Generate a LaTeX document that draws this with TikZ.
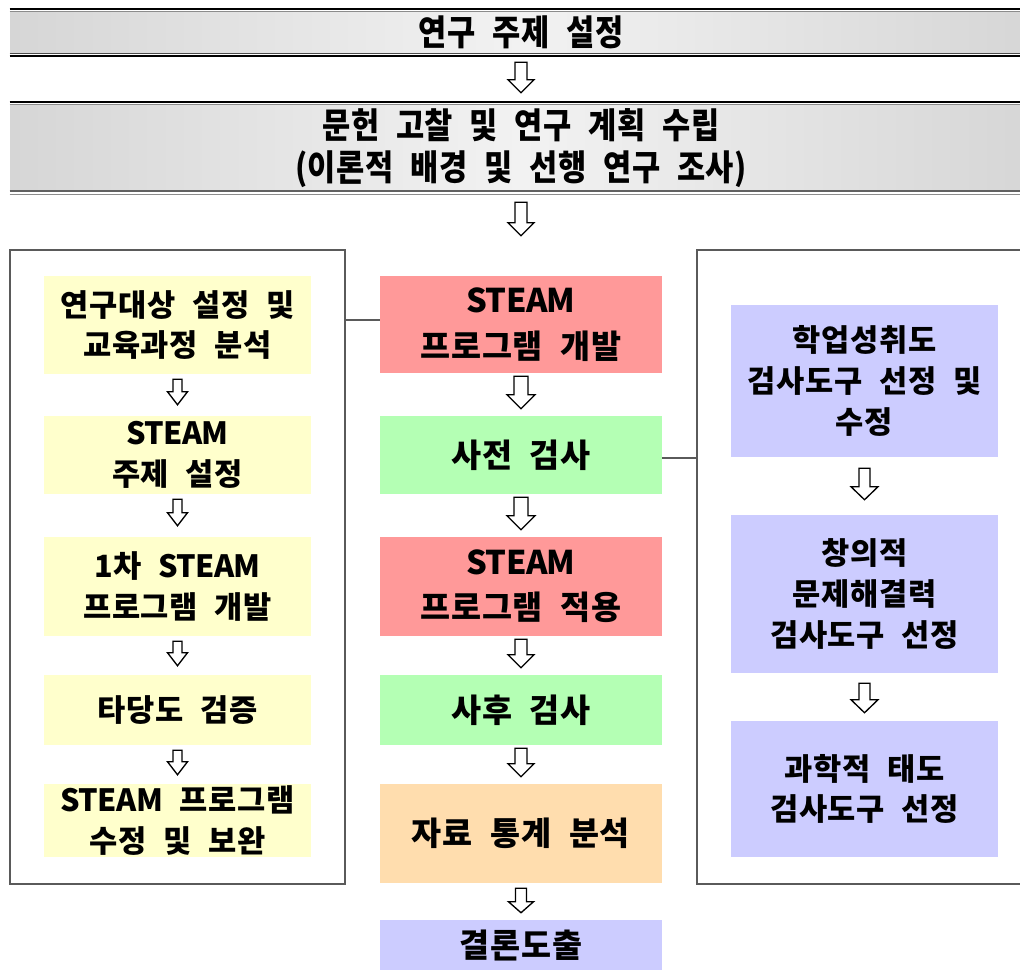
\documentclass[tikz,border=0pt]{standalone}
\usepackage{fontspec}
\usepackage{graphicx}
\setmainfont{Noto Sans CJK KR}[WordSpace=2.2, LetterSpace=2]
\newfontfamily\latfont{Noto Sans CJK KR}[LetterSpace=-2]
\usetikzlibrary{calc}
\definecolor{cyel}{HTML}{FFFFCC}
\definecolor{cred}{HTML}{FF9999}
\definecolor{cgrn}{HTML}{B4FFB4}
\definecolor{corg}{HTML}{FFDDAE}
\definecolor{clav}{HTML}{CCCCFF}
\definecolor{cedge}{HTML}{D6D6D6}
\definecolor{cmid}{HTML}{F2F2F2}
\definecolor{cframe}{HTML}{5A5A5A}
\newcommand\lat[1]{{\latfont\bfseries #1}}
\newcommand\harrow[7]{%
 \draw[hollow] let \p1=(#1), \p2=(#2) in
  ({\x1-#5*0.75pt},{\y1-#3*0.75pt}) -- ({\x1+#5*0.75pt},{\y1-#3*0.75pt})
  -- ({\x1+#5*0.75pt},{\y2+#4*0.75pt+#7*0.75pt}) -- ({\x1+#6*0.75pt},{\y2+#4*0.75pt+#7*0.75pt})
  -- ({\x1},{\y2+#4*0.75pt}) -- ({\x1-#6*0.75pt},{\y2+#4*0.75pt+#7*0.75pt})
  -- ({\x1-#5*0.75pt},{\y2+#4*0.75pt+#7*0.75pt}) -- cycle;}
\begin{document}
\begin{tikzpicture}[x=0.75pt,y=-0.75pt,
  sz/.style 2 args={minimum width=#1*0.75pt, minimum height=#2*0.75pt},
  box/.style={inner sep=0pt, align=center, text=black},
  sidetext/.style={font=\bfseries\fontsize{23}{30.5}\selectfont},
  midtext/.style={font=\bfseries\fontsize{24.5}{34}\selectfont},
  lbox/.style={box, sidetext, fill=cyel},
  rbox/.style={box, sidetext, fill=clav},
  cbox/.style={box, midtext, fill=#1},
  outer/.style={draw=cframe, line width=1pt, inner sep=0pt},
  link/.style={draw=cframe, line width=1pt},
  bar/.style={inner sep=0pt, align=center, left color=cedge, right color=cedge, middle color=cmid,
     font=\bfseries\fontsize{23}{31.5}\selectfont},
  hollow/.style={draw=black, fill=white, line width=1pt, line join=miter}]
\useasboundingbox (0,0) rectangle (1020,970);
\fill[white] (0,0) rectangle (1020,970);

% header bars
\node[bar, sz={1022}{41}] (bar1) at (521,32.5) {\scalebox{1}[1.15]{연구 주제 설정}};
\draw[line width=1.5pt] ([yshift=2.25pt]bar1.north west) -- ([yshift=2.25pt]bar1.north east);
\draw[line width=0.8pt, black!45] (bar1.north west) -- (bar1.north east);
\draw[line width=0.8pt, black!70] (bar1.south west) -- (bar1.south east);
\draw[line width=1.5pt] ([yshift=-2.25pt]bar1.south west) -- ([yshift=-2.25pt]bar1.south east);

\node[bar, sz={1022}{86}] (bar2) at (521,148) {\scalebox{1}[1.15]{문헌 고찰 및 연구 계획 수립}\\\scalebox{1}[1.15]{(이론적 배경 및 선행 연구 조사)}};
\draw[line width=1.5pt] ([yshift=2.25pt]bar2.north west) -- ([yshift=2.25pt]bar2.north east);
\draw[line width=0.8pt, black!45] (bar2.north west) -- (bar2.north east);
\draw[line width=1.5pt, black!62] (bar2.south west) -- (bar2.south east);
\draw[line width=0.8pt, black!45] ([yshift=-2.25pt]bar2.south west) -- ([yshift=-2.25pt]bar2.south east);

% outer frames
\node[outer, sz={335}{634}] (outL) at (177.5,567) {};
\node[outer, sz={326}{634}] (outR) at (860,567) {};

% left column
\node[lbox, sz={267}{98}] (L1) at (177.5,325) {연구대상 설정 및\\교육과정 분석};
\node[lbox, sz={267}{78}] (L2) at (177.5,455) {\lat{STEAM}\\주제 설정};
\node[lbox, sz={267}{99}] (L3) at (177.5,586.5) {\lat{1}차 \lat{STEAM}\\프로그램 개발};
\node[lbox, sz={267}{70}] (L4) at (177.5,710) {타당도 검증};
\node[lbox, sz={267}{73}] (L5) at (177.5,820.5) {\lat{STEAM} 프로그램\\수정 및 보완};

% centre column
\node[cbox=cred, sz={282}{97}] (C1) at (521,324.5) {\lat{STEAM}\\프로그램 개발};
\node[cbox=cgrn, sz={282}{78}] (C2) at (521,455) {사전 검사};
\node[cbox=cred, sz={282}{99}] (C3) at (521,586.5) {\lat{STEAM}\\프로그램 적용};
\node[cbox=cgrn, sz={282}{70}] (C4) at (521,710) {사후 검사};
\node[cbox=corg, sz={282}{99}] (C5) at (521,833.5) {자료 통계 분석};
\node[cbox=clav, sz={282}{50}] (C6) at (521,945) {결론도출};

% right column
\node[rbox, sz={267}{152}] (R1) at (864.5,381) {학업성취도\\검사도구 선정 및\\수정};
\node[rbox, sz={267}{158}] (R2) at (864.5,594) {창의적\\문제해결력\\검사도구 선정};
\node[rbox, sz={267}{136}] (R3) at (864.5,789) {과학적 태도\\검사도구 선정};

% side links
\coordinate (j1) at ($(C1.west)+(0,-4.5)$);
\draw[link] (j1) -- (j1 -| outL.east);
\coordinate (j2) at ($(C2.east)+(0,3)$);
\draw[link] (j2) -- (j2 -| outR.west);

% hollow arrows: centre
\harrow{bar1.south -| C1.north}{bar2.north -| C1.north}{9}{12}{6}{13}{13}
\harrow{bar2.south -| C1.north}{C1.north}{11}{40}{6}{13}{13}
\harrow{C1.south}{C2.north}{3}{7}{7}{14}{14}
\harrow{C2.south}{C3.north}{3}{7}{7}{14}{14}
\harrow{C3.south}{C4.north}{3}{7}{6}{13}{13}
\harrow{C4.south}{C5.north}{3}{7}{6}{13}{13}
\harrow{C5.south}{C6.north}{5}{7}{5.5}{12.5}{11}
% left
\harrow{L1.south}{L2.north}{5}{11}{4.5}{10}{13}
\harrow{L2.south}{L3.north}{5}{11}{4.5}{10}{13}
\harrow{L3.south}{L4.north}{5}{9}{4.5}{10}{13}
\harrow{L4.south}{L5.north}{5}{9}{4.5}{10}{13}
% right
\harrow{R1.south}{R2.north}{11}{15}{5.5}{13.5}{13}
\harrow{R2.south}{R3.north}{10}{8}{5.5}{13.5}{13}
\end{tikzpicture}
\end{document}
